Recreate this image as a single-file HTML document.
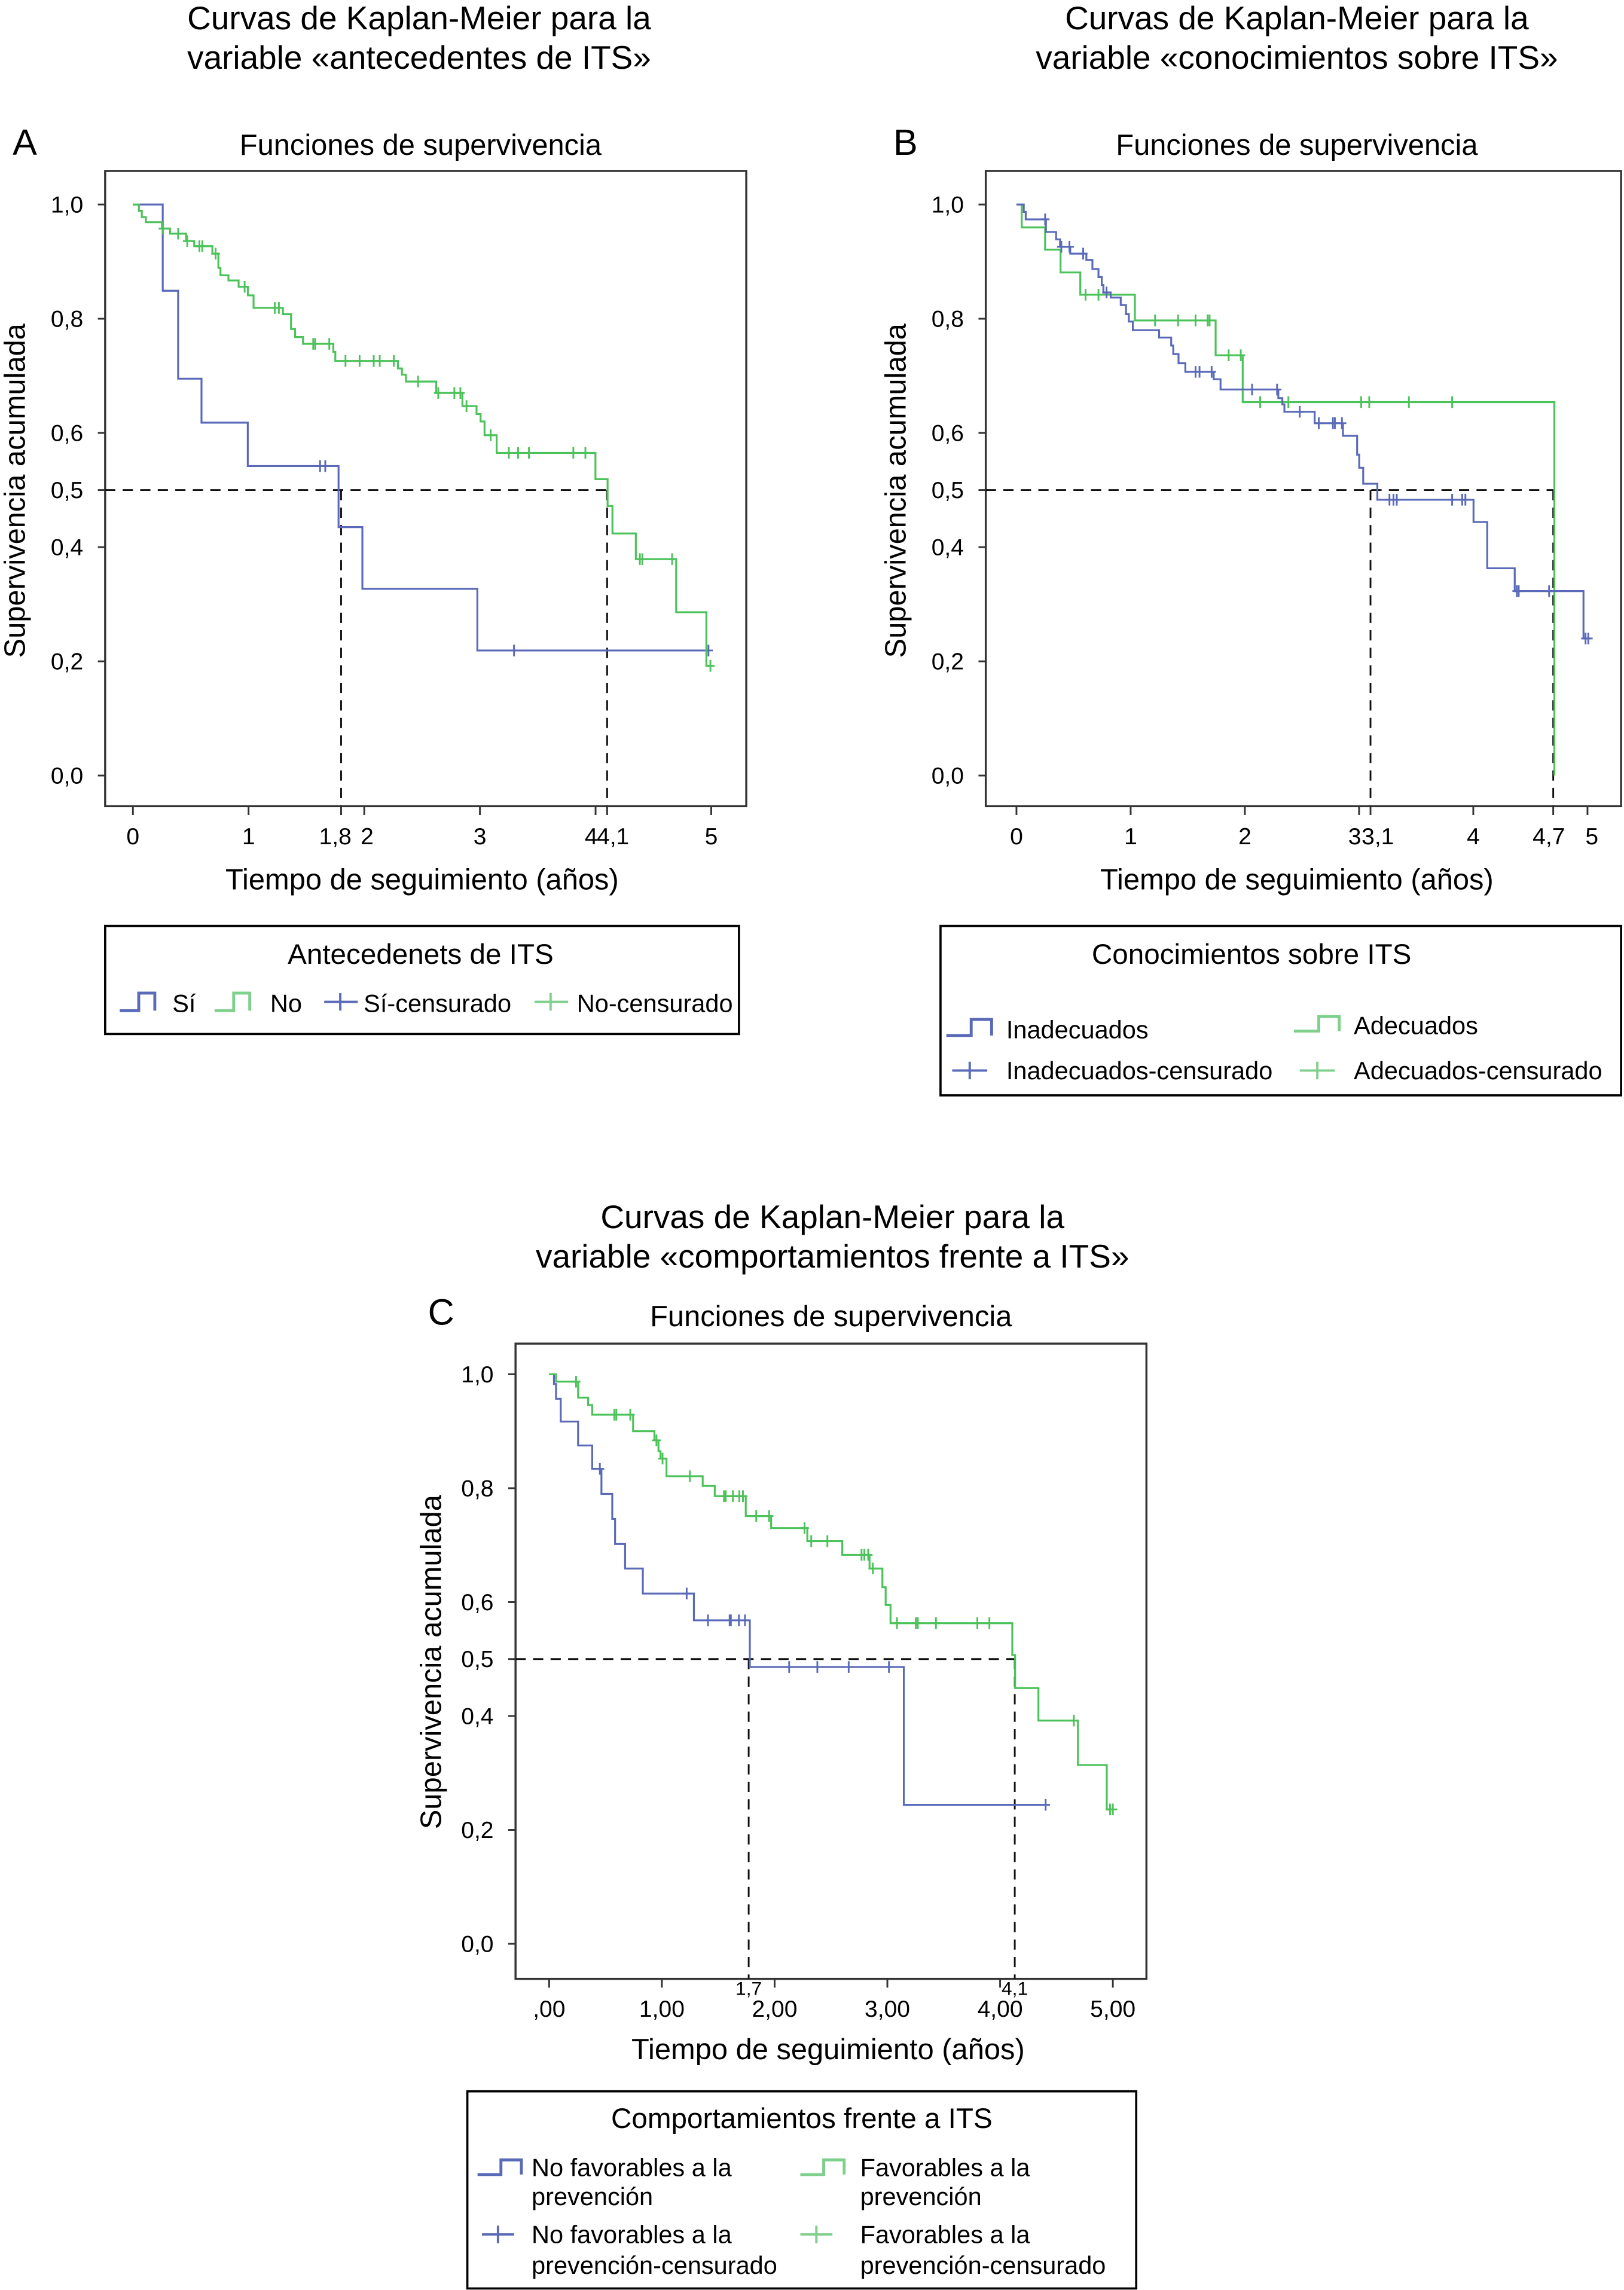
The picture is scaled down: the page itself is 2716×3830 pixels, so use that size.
<!DOCTYPE html>
<html><head><meta charset="utf-8"><style>
html,body{margin:0;padding:0;background:#fff;}
svg{display:block;font-family:"Liberation Sans",sans-serif;}
</style></head><body>
<svg id="fig" xmlns="http://www.w3.org/2000/svg" width="2716" height="3830" viewBox="0 0 1112 1568">
<g font-size="22.5" text-anchor="middle">
<text x="287" y="20">Curvas de Kaplan-Meier para la</text>
<text x="287" y="47">variable «antecedentes de ITS»</text>
<text x="17" y="106" font-size="25">A</text>
<text x="288" y="106" font-size="20">Funciones de supervivencia</text>
<text x="289" y="609" font-size="20">Tiempo de seguimiento (años)</text>
<text transform="translate(17,336) rotate(-90)" font-size="20">Supervivencia acumulada</text>
</g>
<g font-size="22.5" text-anchor="middle">
<text x="888" y="20">Curvas de Kaplan-Meier para la</text>
<text x="888" y="47">variable «conocimientos sobre ITS»</text>
<text x="620" y="106" font-size="25">B</text>
<text x="888" y="106" font-size="20">Funciones de supervivencia</text>
<text x="888" y="609" font-size="20">Tiempo de seguimiento (años)</text>
<text transform="translate(620,336) rotate(-90)" font-size="20">Supervivencia acumulada</text>
</g>
<g font-size="22.5" text-anchor="middle">
<text x="570" y="841">Curvas de Kaplan-Meier para la</text>
<text x="570" y="868">variable «comportamientos frente a ITS»</text>
<text x="302" y="907" font-size="25">C</text>
<text x="569" y="908" font-size="20">Funciones de supervivencia</text>
<text x="567" y="1410" font-size="20">Tiempo de seguimiento (años)</text>
<text transform="translate(302,1138) rotate(-90)" font-size="20">Supervivencia acumulada</text>
</g>

<g font-size="17">
<rect x="72" y="634" width="434" height="74" fill="none" stroke="#000" stroke-width="1.5"/>
<text x="288" y="660" text-anchor="middle" font-size="19.5">Antecedenets de ITS</text>
<path d="M82 692H95V680H106V692" fill="none" stroke="#5a6ab8" stroke-width="2"/>
<text x="118" y="693">Sí</text>
<path d="M147 692H160V680H171V692" fill="none" stroke="#7fd08c" stroke-width="2"/>
<text x="185" y="693">No</text>
<path d="M222 686H245M233 680V692" stroke="#5a6ab8" stroke-width="1.6"/>
<text x="249" y="693">Sí-censurado</text>
<path d="M366 686H389M377 680V692" stroke="#7fd08c" stroke-width="1.6"/>
<text x="395" y="693">No-censurado</text>
</g>

<g font-size="17">
<rect x="644" y="634" width="466" height="116" fill="none" stroke="#000" stroke-width="1.5"/>
<text x="857" y="660" text-anchor="middle" font-size="19.5">Conocimientos sobre ITS</text>
<path d="M648 709H665V698H679V709" fill="none" stroke="#5a6ab8" stroke-width="2"/>
<text x="689" y="711">Inadecuados</text>
<path d="M886 706H903V696H917V706" fill="none" stroke="#7fd08c" stroke-width="2"/>
<text x="927" y="708">Adecuados</text>
<path d="M652 733H676M664 727V739" stroke="#5a6ab8" stroke-width="1.6"/>
<text x="689" y="739">Inadecuados-censurado</text>
<path d="M890 733H914M902 727V739" stroke="#7fd08c" stroke-width="1.6"/>
<text x="927" y="739">Adecuados-censurado</text>
</g>

<g font-size="17">
<rect x="320" y="1432" width="458" height="135" fill="none" stroke="#000" stroke-width="1.5"/>
<text x="549" y="1457" text-anchor="middle" font-size="19.5">Comportamientos frente a ITS</text>
<path d="M327 1489H343V1479H357V1489" fill="none" stroke="#5a6ab8" stroke-width="2"/>
<text x="364" y="1490">No favorables a la</text>
<text x="364" y="1510">prevención</text>
<path d="M548 1489H564V1479H578V1489" fill="none" stroke="#7fd08c" stroke-width="2"/>
<text x="589" y="1490">Favorables a la</text>
<text x="589" y="1510">prevención</text>
<path d="M330 1530H352M341 1524V1536" stroke="#5a6ab8" stroke-width="1.6"/>
<text x="364" y="1536">No favorables a la</text>
<text x="364" y="1557">prevención-censurado</text>
<path d="M548 1530H570M559 1524V1536" stroke="#7fd08c" stroke-width="1.6"/>
<text x="589" y="1536">Favorables a la</text>
<text x="589" y="1557">prevención-censurado</text>
</g>
</svg>
<script>
// ---- Panel A data ----
const aBlueTimes=[0.258,0.391,0.593,0.993,1.778,1.984,2.978];
const aBlueSurv=[0.849,0.695,0.618,0.542,0.435,0.327,0.219];
const aBlueCens=[1.618,1.663,3.295,4.976];
const aGreenTimes=[0.052,0.077,0.112,0.251,0.321,0.460,0.530,0.687,0.739,0.757,0.826,0.914,0.994,1.043,1.297,1.367,1.402,1.471,1.733,1.750,2.291,2.326,2.361,2.622,2.849,2.971,3.006,3.040,3.145,3.999,4.104,4.146,4.348,4.697,4.958];
const aGreenSurv=[0.989,0.978,0.969,0.958,0.949,0.936,0.927,0.914,0.889,0.876,0.867,0.856,0.841,0.819,0.808,0.782,0.768,0.756,0.742,0.726,0.713,0.702,0.690,0.670,0.647,0.633,0.620,0.596,0.565,0.519,0.472,0.424,0.379,0.286,0.192];
const aGreenCens=[0.26,0.391,0.47,0.575,0.600,0.715,0.966,1.227,1.262,1.559,1.576,1.698,1.838,1.960,2.082,2.134,2.256,2.465,2.640,2.779,2.831,2.884,3.093,3.250,3.330,3.424,3.808,3.912,4.383,4.404,4.662,4.993];
const aXTicks=[0,1,1.8,2,3,4,4.1,5];
const aXLabels=["0","1","1,8","2","3","4","4,1","5"];
// ---- Panel B data ----
const bBlueTimes=[0.064,0.081,0.258,0.347,0.382,0.471,0.612,0.665,0.718,0.747,0.761,0.825,0.913,0.959,0.984,1.019,1.249,1.355,1.373,1.419,1.479,1.727,1.787,2.293,2.328,2.346,2.611,2.859,2.983,3.001,3.036,3.160,4.002,4.122,4.363,4.965];
const bBlueSurv=[0.987,0.974,0.952,0.939,0.926,0.914,0.903,0.887,0.873,0.859,0.846,0.837,0.824,0.808,0.795,0.780,0.767,0.753,0.738,0.722,0.707,0.694,0.676,0.661,0.650,0.637,0.617,0.595,0.562,0.539,0.511,0.483,0.444,0.363,0.323,0.240];
const bBlueCens=[0.251,0.393,0.464,0.584,0.789,1.568,1.603,1.709,2.063,2.282,2.481,2.647,2.771,2.788,2.850,3.266,3.301,3.330,3.815,3.903,3.931,4.381,4.398,4.664,4.983,5.007];
const bGreenTimes=[0.046,0.251,0.386,0.559,1.037,1.744,1.981,4.710];
const bGreenSurv=[0.960,0.921,0.881,0.842,0.797,0.736,0.654,0.0];
const bGreenCens=[0.605,0.718,1.214,1.415,1.568,1.674,1.691,1.858,1.964,2.134,2.381,3.018,3.089,3.436,3.815];
const bXTicks=[0,1,2,3,3.1,4,4.7,5];
const bXLabels=["0","1","2","3","3,1","4","4,7","5"];
// ---- Panel C data ----
const cBlueTimes=[0.043,0.061,0.103,0.257,0.382,0.464,0.560,0.585,0.674,0.831,1.284,1.780,3.146];
const cBlueSurv=[0.983,0.957,0.917,0.875,0.834,0.790,0.746,0.702,0.659,0.615,0.568,0.486,0.244];
const cBlueCens=[0.45,1.220,1.409,1.601,1.612,1.683,1.737,2.129,2.379,2.657,3.014,4.404];
const cGreenTimes=[0.061,0.257,0.346,0.382,0.745,0.934,0.970,0.988,1.041,1.362,1.469,1.744,1.969,2.290,2.600,2.842,2.956,2.985,3.028,4.108,4.133,4.340,4.690,4.946];
const cGreenSurv=[0.987,0.959,0.946,0.929,0.900,0.884,0.865,0.852,0.821,0.804,0.786,0.751,0.730,0.707,0.683,0.659,0.626,0.595,0.563,0.507,0.449,0.392,0.314,0.236];
const cGreenCens=[0.239,0.578,0.596,0.720,0.952,1.006,1.248,1.551,1.566,1.630,1.687,1.719,1.837,1.951,2.265,2.325,2.468,2.771,2.796,2.830,2.871,3.085,3.252,3.270,3.431,3.798,3.905,4.654,4.975,5.000];
const cXTicks=[0,1,2,3,4,5];
const cXLabels=[",00","1,00","2,00","3,00","4,00","5,00"];
const cMedians=[1.77,4.13];
const cMedianLabels=["1,7","4,1"];
const yTicks=[1.0,0.8,0.6,0.5,0.4,0.2,0.0];
const yLabels=["1,0","0,8","0,6","0,5","0,4","0,2","0,0"];

const NS="http://www.w3.org/2000/svg";
const svg=document.getElementById('fig');
const BLUE="#5a6ab8", GREEN="#4cc25a";
function mk(tag,name,attrs,parent,interact){
  const el=document.createElementNS(NS,tag);
  
  
  for(const k in attrs) el.setAttribute(k,attrs[k]);
  parent.appendChild(el);
  return el;
}
function survAt(times,surv,t){let s=1;for(let i=0;i<times.length;i++){if(times[i]<=t+1e-9)s=surv[i];}return s;}
function panel(p){
  const g=mk('g','panel-'+p.id,{},svg,false);
  const xs=t=>p.x0+t*(p.x5-p.x0)/5;
  const ys=s=>p.y0-s*(p.y0-p.y1);
  mk('rect','panel-'+p.id+'-plot-frame',{x:p.fx,y:p.fy,width:p.fw,height:p.fh,fill:'none',stroke:'#333','stroke-width':1.4},g,false);
  yTicks.forEach((v,i)=>{
    mk('line','panel-'+p.id+'-y-tick',{x1:p.fx-5,x2:p.fx,y1:ys(v),y2:ys(v),stroke:'#333','stroke-width':1.2},g,false);
    const t=mk('text','panel-'+p.id+'-y-tick-label',{x:p.fx-15,y:ys(v)+5.5,'font-size':16,'text-anchor':'end'},g,false);
    t.textContent=yLabels[i];
  });
  p.xt.forEach((v,i)=>{
    mk('line','panel-'+p.id+'-x-tick',{x1:xs(v),x2:xs(v),y1:p.fy+p.fh,y2:p.fy+p.fh+6,stroke:'#333','stroke-width':1.2},g,false);
    const t=mk('text','panel-'+p.id+'-x-tick-label',{x:xs(v)+(p.xoff?p.xoff[i]:0),y:p.fy+p.fh+26,'font-size':16,'text-anchor':'middle'},g,false);
    t.textContent=p.xl[i];
  });
  const yh=ys(0.5);
  mk('line','panel-'+p.id+'-median-horizontal',{x1:p.fx,x2:xs(Math.max(...p.med)),y1:yh,y2:yh,stroke:'#111','stroke-width':1.2,'stroke-dasharray':'7,5'},g,false);
  p.med.forEach(m=>{
    mk('line','panel-'+p.id+'-median-vertical',{x1:xs(m),x2:xs(m),y1:yh,y2:p.fy+p.fh,stroke:'#111','stroke-width':1.2,'stroke-dasharray':'7,5'},g,false);
  });
  p.series.forEach(s=>{
    let d='M'+xs(0)+' '+ys(1);
    s.t.forEach((t,i)=>{d+=' H'+xs(t).toFixed(2)+' V'+ys(s.s[i]).toFixed(2);});
    const last=Math.max(s.t[s.t.length-1],...s.c);
    if(!s.noTail) d+=' H'+xs(last).toFixed(2);
    mk('path','panel-'+p.id+'-'+s.name+'-curve',{d:d,fill:'none',stroke:s.col,'stroke-width':1.3},g,false);
    s.c.forEach(c=>{
      const yy=ys(survAt(s.t,s.s,c));
      mk('path','panel-'+p.id+'-'+s.name+'-censor-mark',{d:'M'+xs(c).toFixed(2)+' '+(yy-4)+' V'+(yy+4)+' M'+(xs(c)-3)+' '+yy+' H'+(xs(c)+3),stroke:s.col,'stroke-width':1.2},g,false);
    });
  });
  return {xs,ys,g};
}
panel({id:'a',fx:72,fy:117,fw:439,fh:435,x0:91,x5:487,y0:531,y1:140,xt:aXTicks,xl:aXLabels,xoff:[0,0,-4,2,0,-3,4,0],med:[1.8,4.1],
  series:[{name:'si',t:aBlueTimes,s:aBlueSurv,c:aBlueCens,col:BLUE},{name:'no',t:aGreenTimes,s:aGreenSurv,c:aGreenCens,col:GREEN}]});
panel({id:'b',fx:675,fy:117,fw:435,fh:435,x0:696,x5:1087,y0:531,y1:140,xt:bXTicks,xl:bXLabels,xoff:[0,0,0,-3,5,0,-3,3],med:[3.1,4.7],
  series:[{name:'adecuados',t:bGreenTimes,s:bGreenSurv,c:bGreenCens,col:GREEN,noTail:true},{name:'inadecuados',t:bBlueTimes,s:bBlueSurv,c:bBlueCens,col:BLUE}]});
const pc=panel({id:'c',fx:353,fy:920,fw:432,fh:435,x0:376,x5:762,y0:1331,y1:941,xt:cXTicks,xl:cXLabels,med:cMedians,
  series:[{name:'no-favorables',t:cBlueTimes,s:cBlueSurv,c:cBlueCens,col:BLUE},{name:'favorables',t:cGreenTimes,s:cGreenSurv,c:cGreenCens,col:GREEN}]});
cMedians.forEach((m,i)=>{
  const t=mk('text','panel-c-median-label',{x:pc.xs(m),y:1366,'font-size':13,'text-anchor':'middle'},pc.g,false);
  t.textContent=cMedianLabels[i];
});
</script>
</body></html>
